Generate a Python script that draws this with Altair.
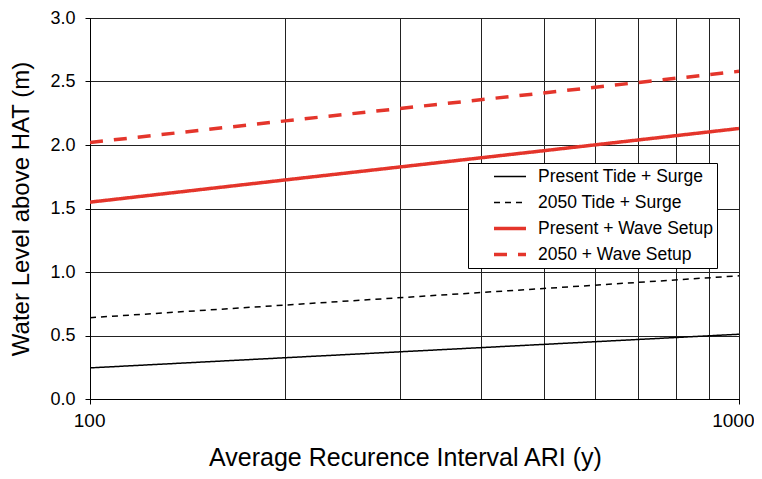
import altair as alt
import pandas as pd

# ---- data ----
ari = [100, 200, 500, 1000]
present_tide_surge = [0.245, 0.325, 0.43, 0.51]
tide_surge_2050 = [0.64, 0.74, 0.87, 0.97]
present_wave_setup = [1.55, 1.725, 1.955, 2.13]
wave_setup_2050 = [2.02, 2.19, 2.41, 2.58]

series_names = ["Present Tide + Surge", "2050 Tide + Surge",
                "Present + Wave Setup", "2050 + Wave Setup"]
series_values = [present_tide_surge, tide_surge_2050,
                 present_wave_setup, wave_setup_2050]
series_colors = ["black", "black", "#e4352b", "#e4352b"]
series_dashes = [[1, 0], [6, 5], [1, 0], [13, 11]]
series_widths = [1.5, 1.5, 3.5, 3.5]

y_ticks = [0.0, 0.5, 1.0, 1.5, 2.0, 2.5, 3.0]
x_grid = [100, 200, 300, 400, 500, 600, 700, 800, 900, 1000]
x_labels = [100, 1000]

rows = []
for name, vals in zip(series_names, series_values):
    for a, v in zip(ari, vals):
        rows.append({"ari": a, "level": v, "series": name})
df = pd.DataFrame(rows)

FONT = "Liberation Sans"
show_test = " || ".join(f"datum.value == {v}" for v in x_labels)

legend = alt.Legend(
    title=None, orient="none", legendX=378, legendY=145,
    fillColor="white", strokeColor="black", padding=4,
    labelFont=FONT, labelFontSize=17.5, labelColor="black", labelLimit=0,
    symbolType="stroke", symbolSize=1024, symbolOffset=20,
    labelOffset=10, rowPadding=7, clipHeight=19,
)

chart = alt.Chart(df).mark_line(clip=True).encode(
    x=alt.X("ari:Q",
            scale=alt.Scale(type="log", domain=[100, 1000]),
            axis=alt.Axis(values=x_grid, format="d",
                          labelFlush=False, labelAlign="right", labelOffset=15,
                          labelExpr=f"({show_test}) ? datum.label : ''",
                          tickColor={"condition": {"test": show_test, "value": "black"},
                                     "value": "transparent"},
                          title="Average Recurence Interval ARI (y)",
                          titleFontSize=25, titlePadding=15, titleX=315,
                          labelFontSize=19, labelPadding=7)),
    y=alt.Y("level:Q",
            scale=alt.Scale(domain=[0, 3]),
            axis=alt.Axis(values=y_ticks, format=".1f",
                          title="Water Level above HAT (m)",
                          titleFontSize=24, titlePadding=16,
                          labelFontSize=18, labelPadding=10)),
    color=alt.Color("series:N",
                    scale=alt.Scale(domain=series_names, range=series_colors),
                    legend=legend),
    strokeDash=alt.StrokeDash("series:N",
                              scale=alt.Scale(domain=series_names, range=series_dashes),
                              legend=legend),
    strokeWidth=alt.StrokeWidth("series:N",
                                scale=alt.Scale(type="ordinal", domain=series_names,
                                                range=series_widths),
                                legend=legend),
).properties(
    width=649, height=381,
    autosize=alt.AutoSizeParams(type="none"),
    padding={"left": 82, "top": 10, "right": 15, "bottom": 72},
).configure_view(
    stroke="black", strokeWidth=1
).configure_axis(
    labelFont=FONT, titleFont=FONT, titleFontWeight="normal",
    labelColor="black", titleColor="black",
    domainColor="black", domainWidth=1,
    tickColor="black", tickSize=5, tickWidth=1,
    grid=True, gridColor="#222222", gridWidth=1, gridOpacity=1,
)

chart.save("out.html", embed_options={"renderer": "svg", "actions": False})
